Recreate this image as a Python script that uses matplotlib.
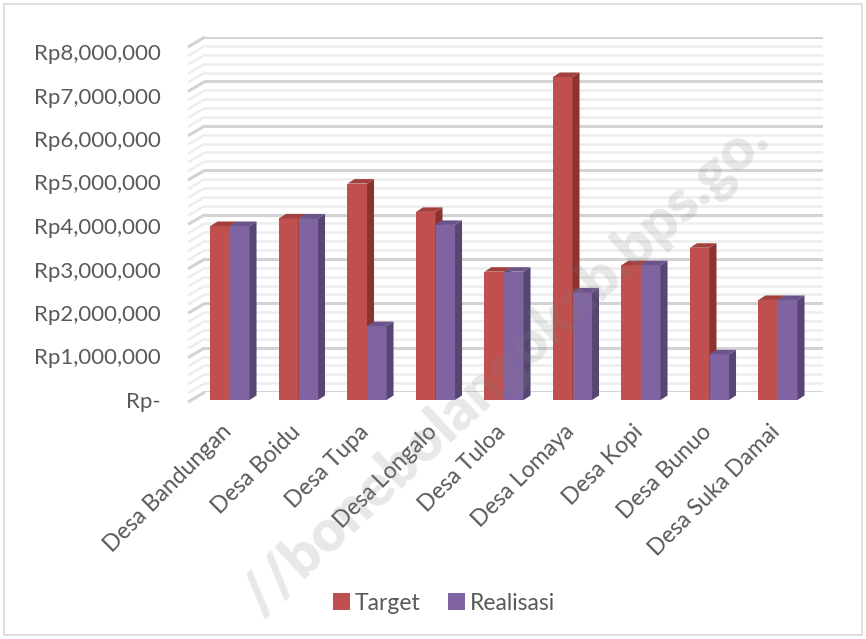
import matplotlib
matplotlib.use("Agg")
import matplotlib.pyplot as plt
from matplotlib.patches import Patch, Rectangle
from matplotlib.lines import Line2D
from matplotlib.ticker import MultipleLocator, FuncFormatter
import matplotlib.transforms as mtrans
import numpy as np

categories = ["Desa Bandungan", "Desa Boidu", "Desa Tupa", "Desa Longalo", "Desa Tuloa",
              "Desa Lomaya", "Desa Kopi", "Desa Bunuo", "Desa Suka Damai"]
target = [4000000, 4175000, 4975000, 4325000, 2950000, 7425000, 3100000, 3500000, 2300000]
realisasi = [4000000, 4175000, 1700000, 4025000, 2950000, 2475000, 3100000, 1050000, 2300000]
series_names = ["Target", "Realisasi"]
yticks = [0, 1000000, 2000000, 3000000, 4000000, 5000000, 6000000, 7000000, 8000000]

FONT = "Lato"
W, H = 866, 639
fig = plt.figure(figsize=(W / 100, H / 100), dpi=100)
fig.patch.set_facecolor("white")


def axrect(l, t, r, b):
    return [l / W, 1 - b / H, (r - l) / W, (b - t) / H]


# back wall with gridlines
axb = fig.add_axes(axrect(205, 37, 823, 392))
axb.set_xlim(0, 1)
axb.set_ylim(0, 8000000)
axb.yaxis.set_major_locator(MultipleLocator(1000000))
axb.yaxis.set_minor_locator(MultipleLocator(200000))
axb.grid(which="major", axis="y", color="#d3d3d3", linewidth=2.2)
axb.grid(which="minor", axis="y", color="#ededed", linewidth=1.8)
axb.tick_params(which="both", left=False, bottom=False, labelleft=False, labelbottom=False)
for s in axb.spines.values():
    s.set_visible(False)
axb.set_zorder(0)

# side wall slanted lines
vals_grid = np.arange(0, 8000001, 200000)
for v in vals_grid:
    px, py = axb.transData.transform((0, v))
    major = (v % 1000000) == 0
    ln = Line2D([px, px - 17], [py, py - 10], transform=mtrans.IdentityTransform(),
                color="#d3d3d3" if major else "#ededed", linewidth=2.2 if major else 1.8,
                solid_capstyle="butt")
    fig.add_artist(ln)

# front axes with bars
ax = fig.add_axes(axrect(195.75, 52, 812.25, 400))
ax.set_zorder(1)
ax.patch.set_alpha(0)
n = len(categories)
ax.set_xlim(-0.5, n - 0.5)
ax.set_ylim(0, 8000000)
for s in ax.spines.values():
    s.set_visible(False)

x = np.arange(n)
bw = 0.285
ax_w_px = 812.25 - 195.75
ax_h_px = 400 - 52
dx = 7 * (n / ax_w_px)
dy = 4.5 * (8000000 / ax_h_px)

colors = [("#C0504D", "#A1403D", "#8A3330"), ("#8064A2", "#6B548A", "#574572")]
for si, vals in enumerate([target, realisasi]):
    front, top, side = colors[si]
    xs = x - bw + si * bw
    ax.bar(xs, vals, width=bw, align="edge", color=front, linewidth=0, zorder=2 + si)
    for xi, v in zip(xs, vals):
        ax.fill([xi + bw, xi + bw + dx, xi + bw + dx, xi + bw],
                [0, dy, v + dy, v], color=side, linewidth=0, zorder=2 + si)
        ax.fill([xi, xi + dx, xi + bw + dx, xi + bw],
                [v, v + dy, v + dy, v], color=top, linewidth=0, zorder=2 + si)

ax.set_yticks(yticks)
ax.yaxis.set_major_formatter(FuncFormatter(lambda v, p: "Rp-" if v == 0 else "Rp{:,.0f}".format(v)))
ax.tick_params(axis="y", length=0, pad=25, labelsize=16, labelcolor="#595959")
ax.set_xticks(x)
ax.set_xticklabels(categories, rotation=45, ha="right", rotation_mode="anchor")
ax.tick_params(axis="x", length=0, pad=15, labelsize=16.5, labelcolor="#595959")
for lab in ax.get_xticklabels() + ax.get_yticklabels():
    lab.set_fontfamily(FONT)
offset = mtrans.ScaledTranslation(-9 / 100, 0, fig.dpi_scale_trans)
for lab in ax.get_xticklabels():
    lab.set_transform(lab.get_transform() + offset)

# legend
handles = [Patch(facecolor=colors[0][0], label=series_names[0]),
           Patch(facecolor=colors[1][0], label=series_names[1])]
leg = fig.legend(handles=handles, loc="center", bbox_to_anchor=(444 / W, 1 - 603 / H), ncol=2,
                 frameon=False, handlelength=0.75, handleheight=0.75, handletextpad=0.2,
                 columnspacing=1.2, prop={"family": FONT, "size": 16.5})
for t in leg.get_texts():
    t.set_color("#595959")

# chart border
fig.add_artist(Rectangle((4 / W, 4 / H), (W - 8) / W, (H - 8) / H, transform=fig.transFigure,
                         fill=False, edgecolor="#d9d9d9", linewidth=1.2))

# watermark
fig.text(505 / W, 1 - 368 / H, "//bonebolangokab.bps.go.", rotation=43, fontsize=42,
         fontweight="heavy", family=FONT, color="#808080", alpha=0.18, ha="center", va="center",
         zorder=10)

fig.savefig("out.png", dpi=100, facecolor="white")
